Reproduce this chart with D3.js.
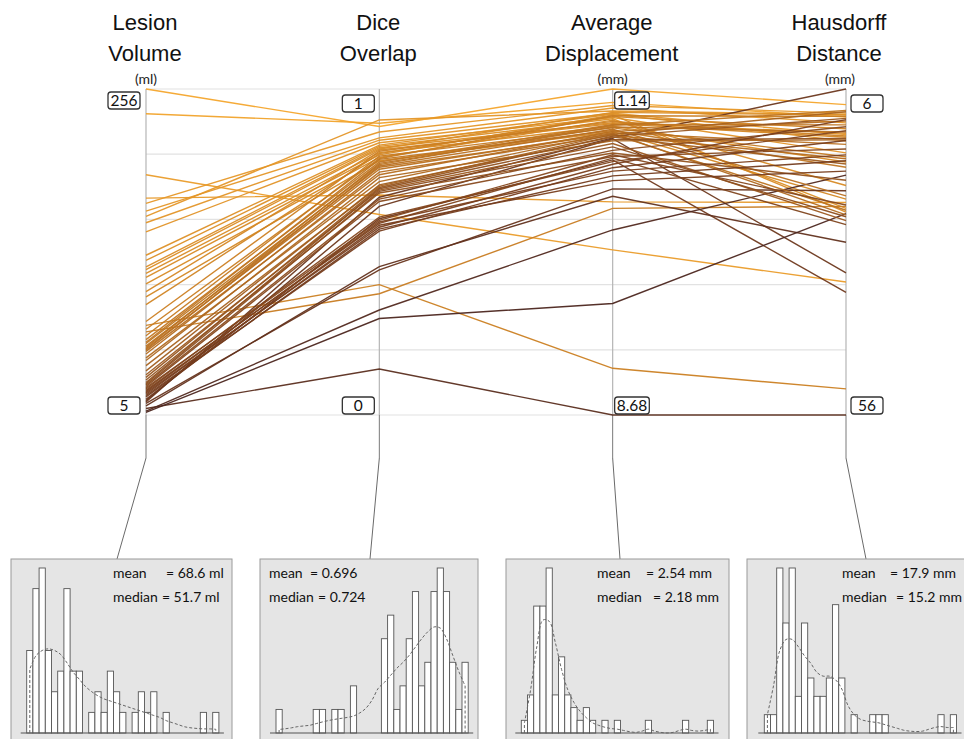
<!DOCTYPE html>
<html>
<head>
<meta charset="utf-8">
<script src="https://cdn.jsdelivr.net/npm/d3@7"></script>
<style>
body { margin: 0; background: #fff; }
svg text { font-family: "Liberation Sans", Arial, sans-serif; }
</style>
</head>
<body>
<svg id="chart" width="964" height="739"></svg>
<script>
// one value per case (60 cases)
var lesionVolume = [256, 237, 190, 172, 168, 162, 158, 153, 146, 128, 124, 119, 117, 114, 111, 106, 100, 96, 90,
    74, 69, 17, 16, 15, 14, 12, 10, 8, 7,
    77, 71, 66, 63, 61, 60, 58, 57, 56, 55, 54, 52, 49, 47, 43, 39, 36, 34, 32, 30, 29, 28, 27, 26, 25, 24, 23, 22, 21, 20, 19];
var diceOverlap = [0.885, 0.895, 0.615, 0.675, 0.868, 0.850, 0.905, 0.843, 0.835, 0.828, 0.824, 0.820, 0.816, 0.805, 0.798, 0.790, 0.813, 0.780, 0.802,
    0.400, 0.372, 0.602, 0.640, 0.668, 0.445, 0.455, 0.141, 0.322, 0.296,
    0.809, 0.787, 0.794, 0.776, 0.784, 0.768, 0.760, 0.772, 0.754, 0.764, 0.737, 0.745, 0.716, 0.728, 0.702, 0.706, 0.690, 0.698, 0.681, 0.694, 0.686, 0.662, 0.655, 0.597, 0.607, 0.588, 0.592, 0.576, 0.582, 0.564, 0.570];
var avgDisplacement = [1.14, 1.45, 4.86, 3.75, 1.52, 1.58, 1.65, 1.70, 1.80, 1.72, 1.83, 1.92, 1.68, 2.00, 1.74, 1.86, 1.94, 2.13, 1.78,
    7.60, 3.90, 2.78, 2.29, 2.27, 3.45, 3.62, 8.68, 4.40, 6.10,
    1.89, 1.76, 2.04, 1.96, 2.10, 1.98, 2.18, 2.02, 2.15, 2.07, 2.12, 2.21, 2.16, 2.34, 2.19, 2.25, 2.40, 2.23, 2.62, 2.31, 2.48, 2.56, 2.70, 2.66, 2.82, 2.74, 3.04, 2.88, 3.26, 2.96, 3.15];
var hausdorffDistance = [8.4, 10.3, 35.6, 23.4, 9.7, 11.2, 9.9, 13.0, 15.8, 14.0, 24.3, 12.8, 10.0, 17.2, 24.9, 20.8, 13.4, 22.9, 12.1,
    52.0, 24.0, 37.2, 34.2, 6.0, 21.6, 29.5, 56.0, 19.2, 25.1,
    13.2, 10.2, 16.4, 11.5, 18.0, 9.3, 24.6, 12.6, 14.5, 22.4, 10.9, 16.7, 25.3, 13.8, 9.5, 17.5, 26.2, 10.5, 20.0, 13.6, 25.6, 11.8, 15.2, 23.8, 12.4, 26.8, 16.1, 10.7, 18.6, 13.9, 17.0];

var axisTitles = [["Lesion", "Volume"], ["Dice", "Overlap"], ["Average", "Displacement"], ["Hausdorff", "Distance"]];
var axisUnits = ["(ml)", "", "(mm)", "(mm)"];
var axisDomains = [[5, 256], [0, 1], [1.14, 8.68], [6, 56]];
var axisTopLabels = ["256", "1", "1.14", "6"];
var axisBottomLabels = ["5", "0", "8.68", "56"];

// histogram counts, 31 bins over the data range of each measure
var histRanges = [[5, 256], [0.141, 0.905], [1.14, 8.68], [6, 56]];
var histLesion = [4, 7, 8, 4, 2, 3, 7, 3, 3, 0, 1, 2, 1, 3, 2, 1, 0, 1, 2, 1, 2, 0, 1, 0, 0, 0, 0, 0, 1, 0, 1];
var histDice = [1, 0, 0, 0, 0, 0, 1, 1, 0, 1, 1, 0, 2, 0, 0, 0, 0, 4, 5, 1, 2, 4, 6, 2, 3, 6, 7, 6, 3, 1, 3];
var histDisp = [1, 3, 10, 10, 13, 3, 6, 3, 2, 1, 2, 1, 0, 1, 0, 1, 0, 0, 0, 0, 1, 0, 0, 0, 0, 0, 1, 0, 0, 0, 1];
var histHaus = [1, 1, 9, 6, 9, 2, 6, 3, 2, 2, 3, 7, 3, 0, 1, 0, 0, 1, 1, 1, 0, 0, 0, 0, 0, 0, 0, 0, 1, 0, 1];

// dashed density curves, height (in counts) at each bin centre
var densLesion = [3.1, 3.75, 4.0, 4.08, 4.0, 3.8, 3.4, 2.95, 2.6, 2.25, 2.0, 1.8, 1.65, 1.55, 1.45, 1.35, 1.25, 1.15, 1.05, 0.95, 0.85, 0.75, 0.6, 0.5, 0.4, 0.3, 0.25, 0.22, 0.2, 0.2, 0.18];
var densDice = [0.15, 0.18, 0.22, 0.27, 0.3, 0.33, 0.4, 0.47, 0.53, 0.58, 0.62, 0.66, 0.72, 0.85, 1.05, 1.4, 1.9, 2.15, 2.45, 2.75, 3.0, 3.3, 3.65, 4.0, 4.3, 4.5, 4.45, 4.0, 3.3, 2.6, 2.0];
var densDisp = [0.8, 3.4, 6.8, 8.9, 8.8, 7.1, 5.0, 3.4, 2.4, 1.7, 1.2, 0.8, 0.6, 0.45, 0.35, 0.3, 0.2, 0.1, 0.05, 0.15, 0.3, 0.15, 0.05, 0.0, 0.05, 0.2, 0.3, 0.2, 0.15, 0.2, 0.3];
var densHaus = [1.0, 2.6, 4.5, 5.1, 5.1, 4.7, 4.2, 3.8, 3.3, 3.1, 3.1, 2.9, 2.4, 1.5, 1.0, 0.75, 0.65, 0.6, 0.55, 0.45, 0.35, 0.25, 0.15, 0.1, 0.08, 0.1, 0.2, 0.3, 0.35, 0.3, 0.3];

var statMean = ["= 68.6 ml", "= 0.696", "= 2.54 mm", "= 17.9 mm"];
var statMedian = ["= 51.7 ml", "= 0.724", "= 2.18 mm", "= 15.2 mm"];

var values = [lesionVolume, diceOverlap, avgDisplacement, hausdorffDistance];
var hists = [histLesion, histDice, histDisp, histHaus];
var dens = [densLesion, densDice, densDisp, densHaus];

var svg = d3.select("#chart");
var yTop = 89, yBot = 415;

var x = d3.scalePoint().domain([0, 1, 2, 3]).range([146, 846]);
var inverted = [false, false, true, true];
var ys = axisDomains.map(function(d, i) {
    return d3.scaleLinear().domain(d).range(inverted[i] ? [yTop, yBot] : [yBot, yTop]);
});

// line colour follows lesion volume: dark brown for small, orange for large
var color = d3.scaleLog()
    .domain([5, 22, 70, 256])
    .range(["#3f1f1f", "#7a3f1e", "#c97d22", "#f4a52c"])
    .clamp(true);

// grid
var gridY = d3.scaleLinear().domain([0, 1]).range([yBot, yTop]);
svg.append("g").selectAll("line")
    .data(gridY.ticks(4))
    .enter().append("line")
    .attr("x1", x(0)).attr("x2", x(3))
    .attr("y1", function(d) { return gridY(d); })
    .attr("y2", function(d) { return gridY(d); })
    .attr("stroke", "#e2e2e2")
    .attr("stroke-width", 1.2);

// axis lines and connectors down to the histograms
var panelTopConnect = [117, 370, 620, 866];
svg.append("g").selectAll("line")
    .data([0, 1, 2, 3])
    .enter().append("line")
    .attr("x1", function(d) { return x(d); })
    .attr("x2", function(d) { return x(d); })
    .attr("y1", yTop).attr("y2", yBot)
    .attr("stroke", "#b5b5b5")
    .attr("stroke-width", 1.2);
svg.append("g").selectAll("line")
    .data([0, 1, 2, 3])
    .enter().append("line")
    .attr("x1", function(d) { return x(d); })
    .attr("x2", function(d) { return x(d); })
    .attr("y1", yBot).attr("y2", 458)
    .attr("stroke", "#7a7a7a")
    .attr("stroke-width", 1);
svg.append("g").selectAll("line")
    .data([0, 1, 2, 3])
    .enter().append("line")
    .attr("x1", function(d) { return x(d); })
    .attr("x2", function(d) { return panelTopConnect[d]; })
    .attr("y1", 458).attr("y2", 559)
    .attr("stroke", "#6a6a6a")
    .attr("stroke-width", 1);

// polylines
var line = d3.line();
var cases = d3.range(lesionVolume.length);
svg.append("g").selectAll("path")
    .data(cases)
    .enter().append("path")
    .attr("d", function(c) {
        return line(values.map(function(v, i) { return [x(i), ys[i](v[c])]; }));
    })
    .attr("fill", "none")
    .attr("stroke", function(c) { return color(lesionVolume[c]); })
    .attr("stroke-width", 1.4)
    .attr("stroke-opacity", 0.95);

// titles
axisTitles.forEach(function(t, i) {
    var cx = i == 3 ? x(i) - 7 : x(i) - 1;
    svg.append("text").attr("x", cx).attr("y", 30).attr("text-anchor", "middle")
        .attr("font-size", 22).attr("fill", "#111").text(t[0]);
    svg.append("text").attr("x", cx).attr("y", 61).attr("text-anchor", "middle")
        .attr("font-size", 22).attr("fill", "#111").text(t[1]);
    if (axisUnits[i]) {
        svg.append("text").attr("x", i == 3 ? x(i) - 6 : x(i)).attr("y", 84).attr("text-anchor", "middle")
            .attr("font-size", 14).style("font-family", "Lato, sans-serif").attr("fill", "#222").text(axisUnits[i]);
    }
});

// min / max boxes
var labelSide = [-1, -1, 1, 1];
var labelGap = [6, 5, 2, 5];
var topBoxY = [92, 95, 92, 95];
function boxLabel(i, txt, y0) {
    var g = svg.append("g");
    var t = g.append("text").attr("y", y0 + 13.5).attr("font-size", 15.5)
        .style("font-family", "Lato, sans-serif").attr("fill", "#111").text(txt);
    var w = Math.max(32, t.node().getComputedTextLength() + 4);
    var bx = labelSide[i] < 0 ? x(i) - labelGap[i] - w : x(i) + labelGap[i];
    g.insert("rect", "text").attr("x", bx).attr("y", y0).attr("width", w).attr("height", 17)
        .attr("rx", 3).attr("fill", "#fff").attr("stroke", "#333").attr("stroke-width", 1.3);
    t.attr("x", bx + w / 2).attr("text-anchor", "middle");
}
[0, 1, 2, 3].forEach(function(i) {
    boxLabel(i, axisTopLabels[i], topBoxY[i]);
    boxLabel(i, axisBottomLabels[i], 397);
});

// histogram panels
var panelX = [11, 260, 506, 747];
var panelW = [221, 218, 223, 240];
var barStart = [26.7, 276, 521.3, 764.3];
var binW = 6.2;
var base = 733;
var statX = [[113, 166, 159], [269, 310, 318], [597, 646, 653], [842, 890, 896]];

function statText(g, tx, ty, txt) {
    return g.append("text").attr("x", tx).attr("y", ty).attr("font-size", 14).attr("fill", "#111")
        .style("font-family", "Lato, sans-serif").text(txt);
}

[0, 1, 2, 3].forEach(function(p) {
    var g = svg.append("g");
    g.append("rect").attr("x", panelX[p]).attr("y", 559).attr("width", panelW[p]).attr("height", 200)
        .attr("fill", "#e5e5e5").attr("stroke", "#9a9a9a").attr("stroke-width", 1);

    var n = hists[p].length;
    var r = histRanges[p];
    var hx = d3.scaleLinear().domain(r).range([barStart[p], barStart[p] + n * binW]);
    var step = (r[1] - r[0]) / n;
    var hy = d3.scaleLinear().domain([0, d3.max(hists[p])]).range([base, base - 165]);

    g.selectAll("rect.bar")
        .data(hists[p])
        .enter().append("rect")
        .attr("class", "bar")
        .attr("x", function(d, i) { return hx(r[0] + i * step); })
        .attr("y", function(d) { return hy(d); })
        .attr("width", function(d, i) { return hx(r[0] + (i + 1) * step) - hx(r[0] + i * step); })
        .attr("height", function(d) { return base - hy(d); })
        .attr("fill", "#fff")
        .attr("stroke", "#555")
        .attr("stroke-width", 0.9)
        .style("display", function(d) { return d > 0 ? null : "none"; });

    g.append("line").attr("x1", barStart[p] - 6).attr("x2", barStart[p] + n * binW + 5)
        .attr("y1", base).attr("y2", base).attr("stroke", "#555").attr("stroke-width", 1.2);

    var pts = dens[p].map(function(d, i) { return [hx(r[0] + (i + 0.5) * step), hy(d)]; });
    var curve = d3.line().curve(d3.curveCatmullRom)(pts);
    var d0 = "M" + pts[0][0] + "," + base + "L" + curve.slice(1) + "L" + pts[n - 1][0] + "," + base;
    g.append("path").attr("d", d0).attr("fill", "none").attr("stroke", "#666")
        .attr("stroke-width", 1).attr("stroke-dasharray", "3,2");

    statText(g, statX[p][0], 578, "mean");
    statText(g, statX[p][1], 578, statMean[p]);
    var lab = statText(g, statX[p][0], 602, "median");
    var labEnd = statX[p][0] + lab.node().getComputedTextLength();
    statText(g, Math.max(statX[p][2], labEnd + 4), 602, statMedian[p]);
});
</script>
</body>
</html>
